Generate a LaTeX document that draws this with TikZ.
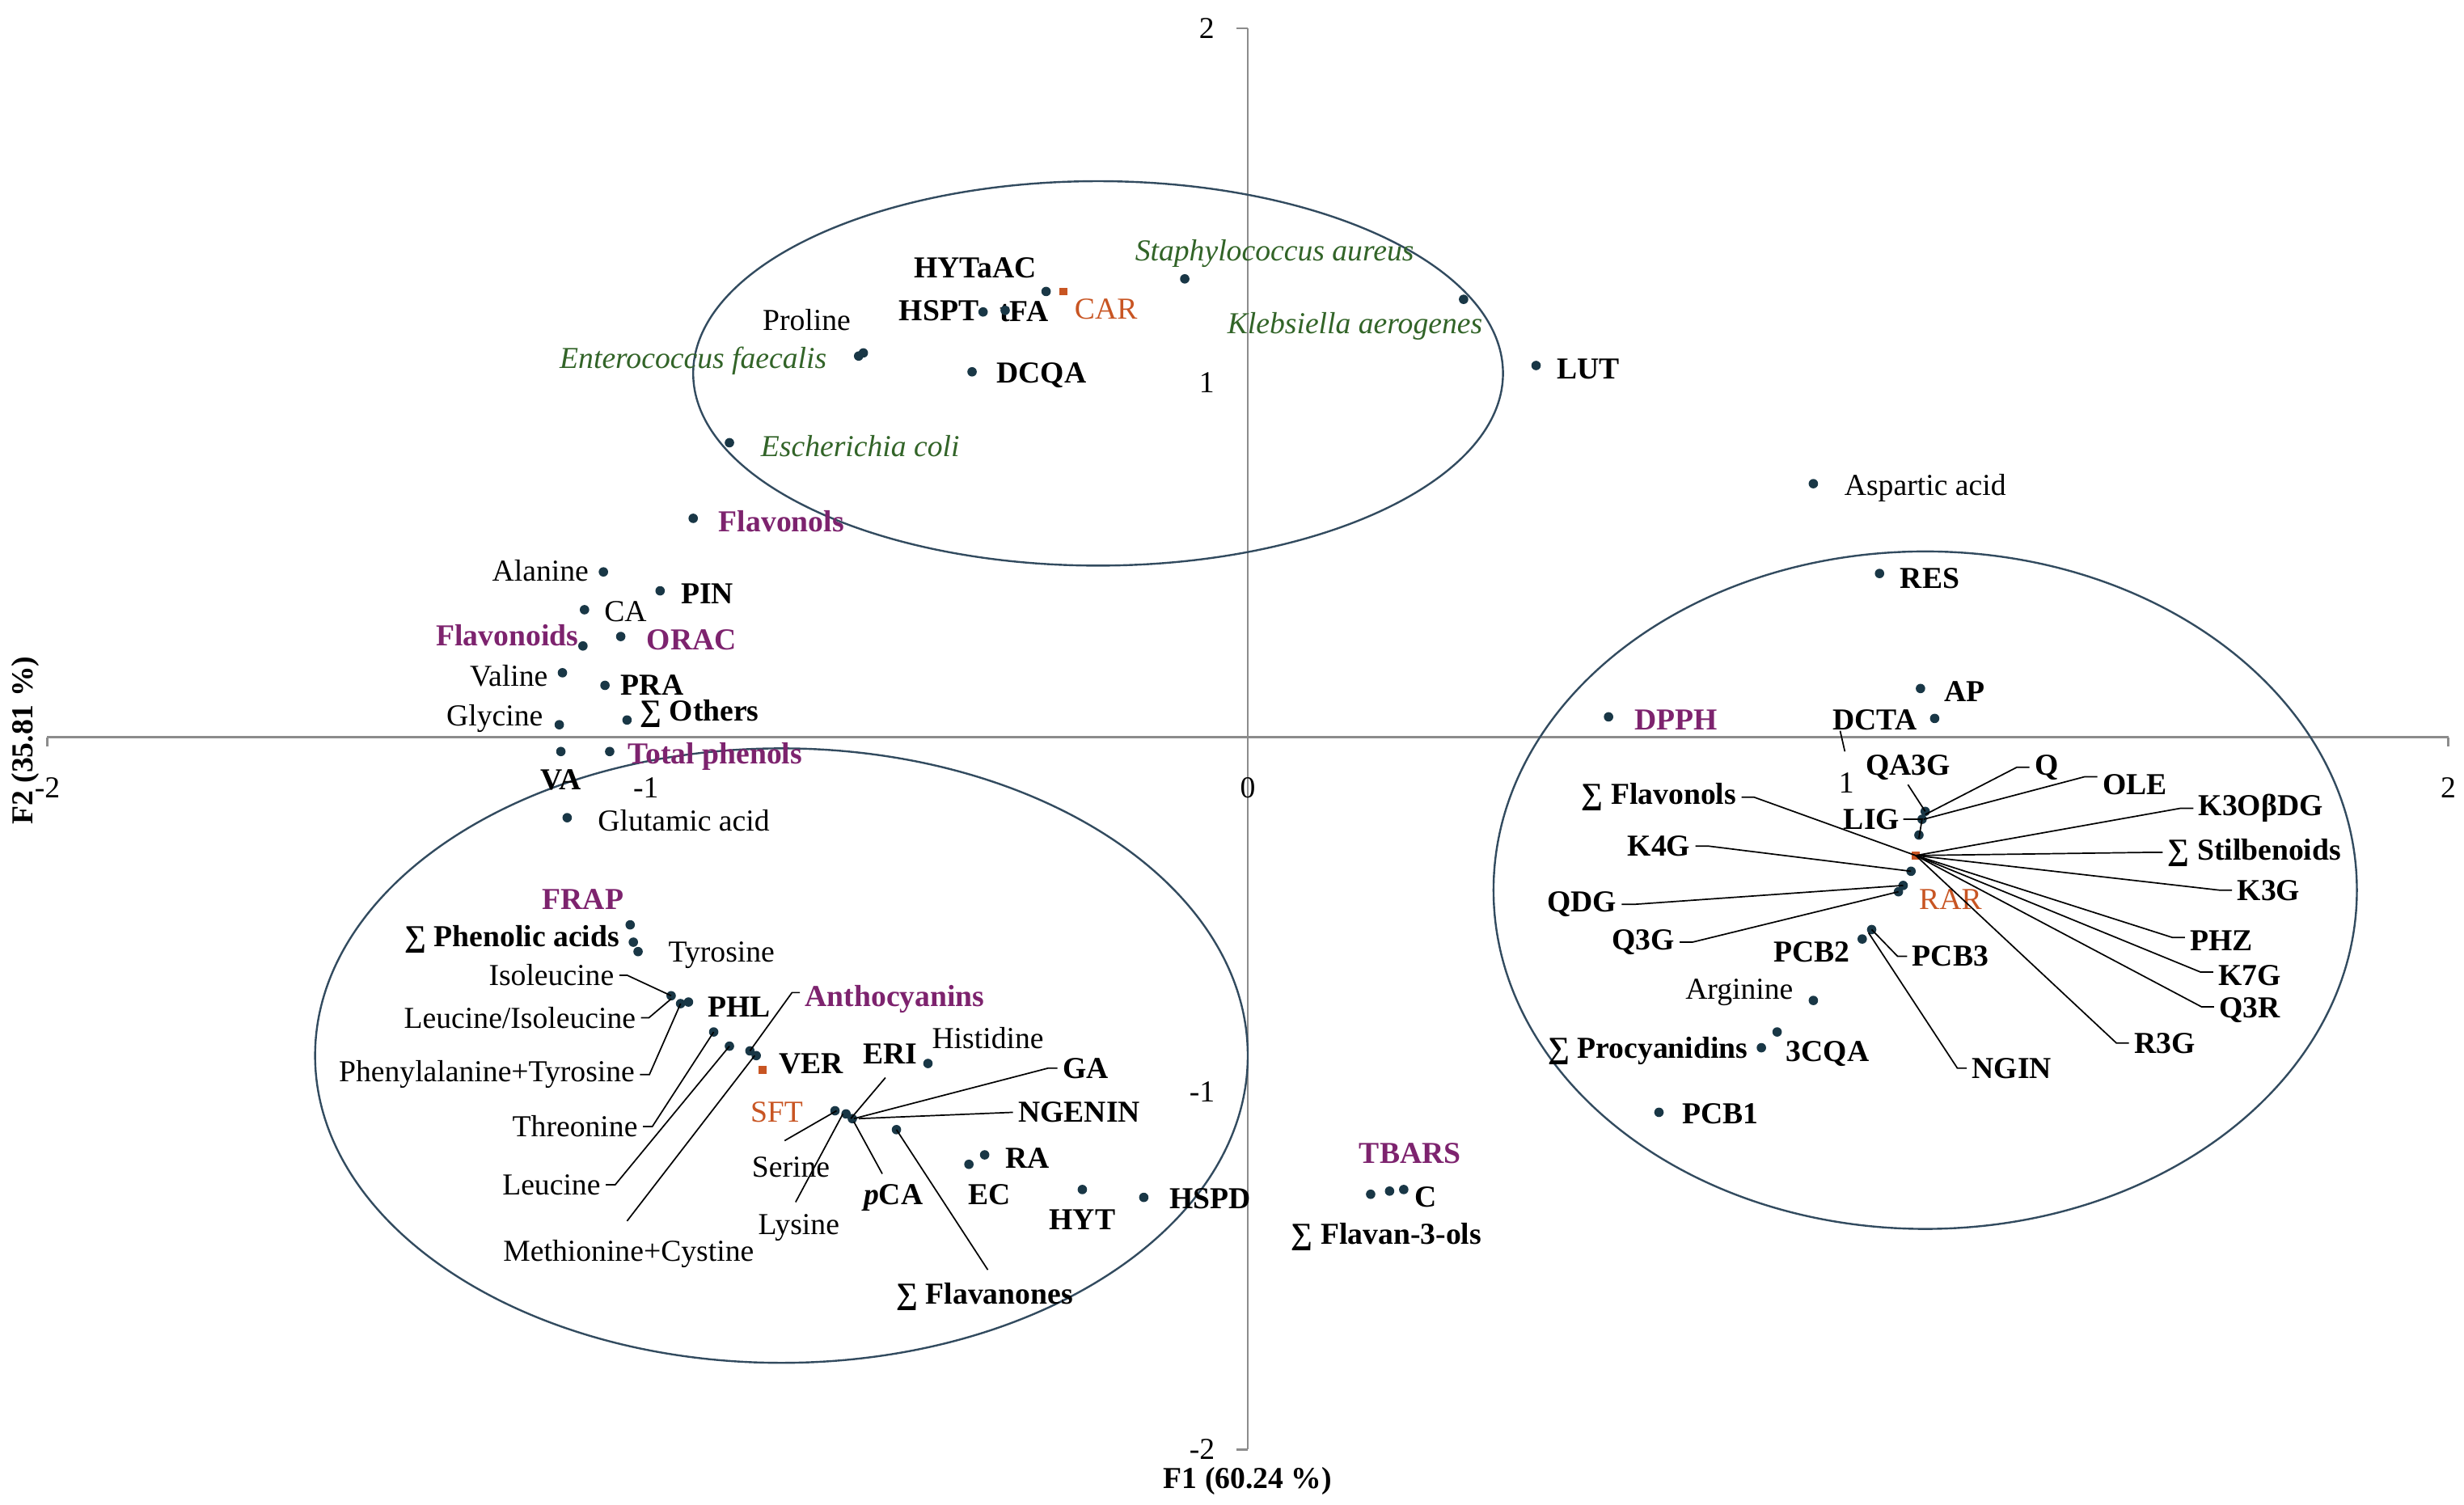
\documentclass[tikz,border=0pt]{standalone}
\usepackage{fontspec}
\setmainfont{Liberation Serif}
\definecolor{dotc}{RGB}{25,55,70}
\definecolor{purp}{RGB}{125,35,110}
\definecolor{grn}{RGB}{50,100,40}
\definecolor{orng}{RGB}{200,85,35}
\definecolor{axc}{RGB}{140,140,140}
\definecolor{ellc}{RGB}{50,75,95}
\newcommand\dt[2]{\fill[dotc] (#1,#2) circle (1.7pt);}
\newcommand\sq[2]{\fill[orng] (#1-2.5,#2-2.5) rectangle (#1+2.5,#2+2.5);}
\begin{document}
\begin{tikzpicture}[x=0.02cm,y=-0.02cm,
  lab/.style={font=\fontsize{11}{13}\selectfont,inner sep=0pt},
  bl/.style={lab,font=\fontsize{11}{13}\selectfont\bfseries},
  pu/.style={bl,text=purp},
  gr/.style={lab,font=\fontsize{11}{13}\selectfont\itshape,text=grn},
  orl/.style={lab,text=orng},
  lead/.style={black,line width=0.5pt},
  ell/.style={ellc,line width=0.7pt},
  axis/.style={axc,line width=0.8pt}]
\useasboundingbox (0,0) rectangle (1564,955);
% axes
\coordinate (xl) at (30,468); \coordinate (xr) at (1554,468);
\coordinate (yt) at (792,18); \coordinate (yb) at (792,920);
\draw[axis] (xl) -- (xr);
\draw[axis] (yt) -- (yb);
\draw[axis] (785,18) -- (792,18); \draw[axis] (785,920) -- (792,920);
\draw[axis] (30,468) -- (30,474); \draw[axis] (1554,468) -- (1554,474);
\node[lab] (t2) at (766,18) {2};
\node[lab] (t1) at (766,243) {1};
\node[lab] (t0) at (792,500) {0};
\node[lab] (tm1) at (763,693) {-1};
\node[lab] (tm2) at (763,920) {-2};
\node[lab] (xm2) at (30,500) {-2};
\node[lab] (xm1) at (410,500) {-1};
\node[lab] (x1) at (1172,497) {1};
\node[lab] (x2) at (1554,500) {2};
\node[bl] (f1) at (792,940) {F1 (60.24 \%)};
\node[bl,rotate=90] (f2) at (16,470) {F2 (35.81 \%)};
% ellipses
\draw[ell] (697,237) ellipse (257 and 122);
\draw[ell] (496,670) ellipse (296 and 195);
\draw[ell] (1222,565) ellipse (274 and 215);
% top cluster
\node[bl] (hytaac) at (619,170) {HYTaAC}; \dt{664}{185}
\node[bl] (hspt) at (596,197) {HSPT}; \dt{624}{198}
\node[bl] (tfa) at (650,198) {tFA}; \dt{638}{197}
\sq{675}{185} \node[orl,font=\fontsize{11}{13}\selectfont] (car) at (702,196) {CAR};
\node[lab] (proline) at (512,203) {Proline}; \dt{545}{226}\dt{548}{224}
\node[gr] (entero) at (440,229) {Enterococcus faecalis};
\node[bl] (dcqa) at (661,238) {DCQA}; \dt{617}{236}
\node[gr] (staph) at (809,161) {Staphylococcus aureus}; \dt{752}{177}
\node[gr] (kleb) at (860,207) {Klebsiella aerogenes}; \dt{929}{190}
\node[bl] (lut) at (1008,234) {LUT}; \dt{975}{232}
\node[gr] (ecoli) at (546,283) {Escherichia coli}; \dt{463}{281}
\node[pu] (flavonols) at (496,331) {Flavonols}; \dt{440}{329}
\node[lab] (asp) at (1222,310) {Aspartic acid}; \dt{1151}{307}
% left middle
\node[lab] (alanine) at (343,362) {Alanine}; \dt{383}{363}
\node[lab] (ca) at (397,388) {CA}; \dt{371}{387}
\node[bl] (pin) at (449,377) {PIN}; \dt{419}{375}
\node[pu] (flavonoids) at (322,403) {Flavonoids}; \dt{370}{410}
\node[pu] (orac) at (439,406) {ORAC}; \dt{394}{404}
\node[lab] (valine) at (323,429) {Valine}; \dt{357}{427}
\node[bl] (pra) at (414,435) {PRA}; \dt{384}{435}
\node[lab] (glycine) at (314,456) {Glycine}; \dt{355}{460}
\node[bl] (others) at (444,453) {∑ Others}; \dt{398}{457}
\node[pu] (totph) at (454,480) {Total phenols}; \dt{387}{477}
\node[bl] (va) at (356,495) {VA}; \dt{356}{477}
\node[lab] (glu) at (434,521) {Glutamic acid}; \dt{360}{519}
% right top
\node[bl] (res) at (1225,367) {RES}; \dt{1193}{364}
\node[bl] (ap) at (1247,439) {AP}; \dt{1219}{437}
\node[bl] (dcta) at (1190,457) {DCTA}; \dt{1228}{456}
\node[pu] (dpph) at (1064,457) {DPPH}; \dt{1021}{455}
\coordinate (dctal) at (1171,477);
\draw[lead] (dcta.south west)++(5,0) -- (dctal);
% right star
\coordinate (hub) at (1216,543);
\dt{1222}{515}\dt{1220}{520}\dt{1218}{530}\dt{1213}{553}\dt{1208}{562}\dt{1205}{566}
\sq{1216}{543}
\node[orl] (rar) at (1238,571) {RAR};
\node[bl] (qa3g) at (1211,487) {QA3G}; \draw[lead] (1211,498) -- (1222,515);
\node[bl] (q) at (1299,487) {Q}; \draw[lead] (q.west)++(-3,0) -- ++(-8,0) -- (1222,517);
\node[bl] (ole) at (1355,498) {OLE}; \draw[lead] (ole.west)++(-3,-5) -- ++(-8,0) -- (1221,520);
\node[bl] (lig) at (1188,520) {LIG}; \draw[lead] (lig.east)++(2,0) -- (1220,520) -- (1218,532);
\node[bl] (k3o) at (1435,513) {K3OβDG}; \draw[lead] (k3o.west)++(-3,0) -- ++(-8,0) -- (hub);
\node[bl] (stil) at (1431,541) {∑ Stilbenoids}; \draw[lead] (stil.west)++(-3,0) -- ++(-8,0) -- (hub);
\node[bl] (k3g) at (1440,565) {K3G}; \draw[lead] (k3g.west)++(-3,0) -- ++(-8,0) -- (hub);
\node[bl] (phz) at (1410,597) {PHZ}; \draw[lead] (phz.west)++(-3,-2) -- ++(-8,0) -- (hub);
\node[bl] (k7g) at (1428,619) {K7G}; \draw[lead] (k7g.west)++(-3,-2) -- ++(-8,0) -- (hub);
\node[bl] (q3r) at (1428,641) {Q3R}; \draw[lead] (q3r.west)++(-3,-2) -- ++(-8,0) -- (hub);
\node[bl] (r3g) at (1374,662) {R3G}; \draw[lead] (r3g.west)++(-3,0) -- ++(-8,0) -- (hub);
\node[bl] (sfl) at (1053,506) {∑ Flavonols}; \draw[lead] (sfl.east)++(3,0) -- ++(8,0) -- (hub);
\node[bl] (k4g) at (1053,537) {K4G}; \draw[lead] (k4g.east)++(3,0) -- ++(8,0) -- (1213,553);
\node[bl] (qdg) at (1004,574) {QDG}; \draw[lead] (qdg.east)++(3,0) -- ++(8,0) -- (1208,562);
\node[bl] (q3g) at (1043,598) {Q3G}; \draw[lead] (q3g.east)++(3,0) -- ++(8,0) -- (1205,566);
\dt{1182}{596}\dt{1188}{590}
\node[bl] (pcb2) at (1150,604) {PCB2};
\node[bl] (pcb3) at (1238,607) {PCB3}; \draw[lead] (pcb3.west)++(-3,0) -- ++(-6,0) -- (1188,590);
\node[bl] (ngin) at (1277,678) {NGIN}; \draw[lead] (ngin.west)++(-3,0) -- ++(-6,0) -- (1186,592);
\node[lab] (arg) at (1104,630) {Arginine}; \dt{1151}{635}
\node[bl] (cqa) at (1160,669) {3CQA}; \dt{1128}{655}
\node[bl] (proc) at (1046,667) {∑ Procyanidins}; \dt{1118}{665}
\node[bl] (pcb1) at (1092,707) {PCB1}; \dt{1053}{706}
% TBARS
\node[pu] (tbars) at (895,732) {TBARS}; \dt{870}{758}\dt{882}{756}\dt{891}{755}
\node[bl] (c) at (905,760) {C};
\node[bl] (fl3) at (880,785) {∑ Flavan-3-ols};
% lower left
\node[pu] (frap) at (370,571) {FRAP}; \dt{400}{587}
\node[bl] (spa) at (325,596) {∑ Phenolic acids}; \dt{402}{598}\dt{405}{604}
\node[lab] (tyr) at (458,606) {Tyrosine};
\dt{426}{632}\dt{432}{637}\dt{437}{636}
\node[lab] (ile) at (350,619) {Isoleucine}; \draw[lead] (ile.east)++(3,0) -- ++(5,0) -- (426,632);
\node[lab] (leile) at (330,646) {Leucine/Isoleucine}; \draw[lead] (leile.east)++(3,0) -- ++(5,0) -- (426,634);
\node[lab] (phety) at (309,682) {Phenylalanine+Tyrosine}; \draw[lead] (phety.east)++(3,0) -- ++(6,0) -- (432,637);
\node[bl] (phl) at (469,639) {PHL};
\dt{453}{655}\dt{463}{664}\dt{476}{667}\dt{480}{670}
\node[pu] (antho) at (568,634) {Anthocyanins}; \draw[lead] (antho.west)++(-3,-4) -- ++(-5,0) -- (476,667);
\node[lab] (thr) at (365,715) {Threonine}; \draw[lead] (thr.east)++(3,0) -- ++(6,0) -- (453,655);
\node[lab] (leu) at (350,752) {Leucine}; \draw[lead] (leu.east)++(3,0) -- ++(6,0) -- (463,664);
\node[lab] (metcys) at (399,796) {Methionine+Cystine}; \draw[lead] (398,775) -- (479,670);
\sq{484}{679}
\node[bl] (ver) at (515,675) {VER};
\node[orl] (sft) at (493,706) {SFT};
\node[bl] (eri) at (565,669) {ERI};
\node[lab] (his) at (627,659) {Histidine}; \dt{589}{675}
\dt{530}{705}\dt{537}{707}\dt{541}{710}\dt{569}{717}
\draw[lead] (562,684) -- (540,710);
\node[bl] (ga) at (689,678) {GA}; \draw[lead] (ga.west)++(-3,0) -- ++(-6,0) -- (542,710);
\node[bl] (ngenin) at (685,706) {NGENIN}; \draw[lead] (ngenin.west)++(-3,0) -- (545,710);
\node[lab] (ser) at (502,741) {Serine}; \draw[lead] (498,724) -- (531,705);
\node[lab] (lys) at (507,779) {Lysine}; \draw[lead] (505,763) -- (535,707);
\node[bl] (pca) at (567,760) {\itshape p\upshape CA}; \draw[lead] (560,745) -- (542,712);
\node[bl] (sfla) at (625,823) {∑ Flavanones}; \draw[lead] (627,806) -- (569,717);
\node[bl] (ra) at (652,735) {RA}; \dt{615}{739}\dt{625}{733}
\node[bl] (ec) at (628,758) {EC};
\node[bl] (hyt) at (687,774) {HYT}; \dt{687}{755}
\node[bl] (hspd) at (768,761) {HSPD}; \dt{726}{760}
\end{tikzpicture}
\end{document}
